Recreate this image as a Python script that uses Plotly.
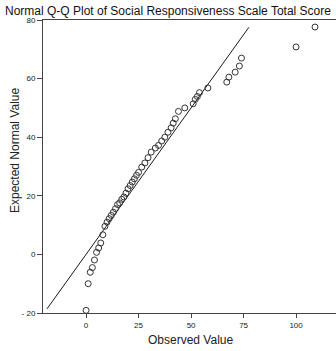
import plotly.graph_objects as go

observed = [0, 1, 2, 3, 4, 5, 6, 7, 8, 9, 10, 11, 12, 13, 14, 15, 16, 17, 18, 19,
            20, 21, 22, 23, 24, 25, 26.5, 28, 29.5, 31, 33, 34.5, 36, 37.5, 39, 40.5,
            41.5, 42.5, 44, 47, 51, 52, 53, 54, 58, 67, 68, 71, 73, 74, 100, 109]
expected = [-19.1, -10, -6.1, -4.5, -1.9, 0.7, 2.2, 3.9, 6.7, 9.6, 11, 12.2, 13.3, 14.4,
            15.6, 17, 17.6, 18.8, 19.6, 20.9, 22.4, 23.5, 24.7, 25.8, 27, 28, 29.8, 31.2,
            33, 34.9, 36.3, 37.2, 38.7, 40, 41.7, 43.2, 44.8, 46.3, 48.8, 50, 51.4, 52.9,
            53.9, 55.2, 56.8, 58.8, 60.5, 62.2, 64.3, 67, 70.8, 77.6]
ref_line = [-18.6, 77.5]

x_ticks = [0, 25, 50, 75, 100]
x_ticktext = ["0", "25", "50", "75", "100"]
y_ticks = [-20, 0, 20, 40, 60, 80]
y_ticktext = ["- 20", "0", "20", "40", "60", "80"]

title = "Normal Q-Q Plot of Social Responsiveness Scale Total Score"
x_title = "Observed Value"
y_title = "Expected Normal Value"

fig = go.Figure()
fig.add_trace(go.Scatter(x=ref_line, y=ref_line, mode="lines",
                         line=dict(color="#1a1a1a", width=1), hoverinfo="skip"))
fig.add_trace(go.Scatter(x=observed, y=expected, mode="markers",
                         marker=dict(symbol="circle-open", size=6, color="#333333",
                                     line=dict(color="#333333", width=1))))

W, H = 336, 351
L, T, B = 43, 20, 38
pw = W - L
ph = H - T - B

def px(xp):
    return (xp - L) / pw

def py(yp):
    return (H - B - yp) / ph

tickfont = dict(family="Liberation Sans Narrow, Arial Narrow, Liberation Sans, Arial", size=8, color="#222")
fig.update_layout(
    width=W, height=H,
    margin=dict(l=L, r=0, t=T, b=B),
    paper_bgcolor="white", plot_bgcolor="white",
    showlegend=False,
    xaxis=dict(range=[-20.5, 119.0], tickvals=x_ticks, ticktext=x_ticktext,
               showgrid=False, zeroline=False, showline=True, linecolor="#444",
               linewidth=1, mirror=True, ticks="outside", ticklen=4, tickcolor="#444",
               tickfont=tickfont),
    yaxis=dict(range=[-20, 80], tickvals=y_ticks, ticktext=y_ticktext,
               showgrid=False, zeroline=False, showline=True, linecolor="#444",
               linewidth=1, ticks="outside", ticklen=5, tickcolor="#444",
               tickfont=tickfont),
    annotations=[
        dict(text=title, xref="paper", yref="paper", x=px(3), y=py(11),
             xanchor="left", yanchor="middle", showarrow=False,
             font=dict(family="Liberation Sans, Arial", size=12, color="#111")),
        dict(text=x_title, xref="paper", yref="paper", x=px(190), y=py(340),
             xanchor="center", yanchor="middle", showarrow=False,
             font=dict(family="Liberation Sans, Arial", size=12, color="#222")),
        dict(text=y_title, xref="paper", yref="paper", x=px(15), y=py(150),
             xanchor="center", yanchor="middle", showarrow=False, textangle=-90,
             font=dict(family="Liberation Sans, Arial", size=12, color="#222")),
    ],
)

fig.write_html("out.html")
